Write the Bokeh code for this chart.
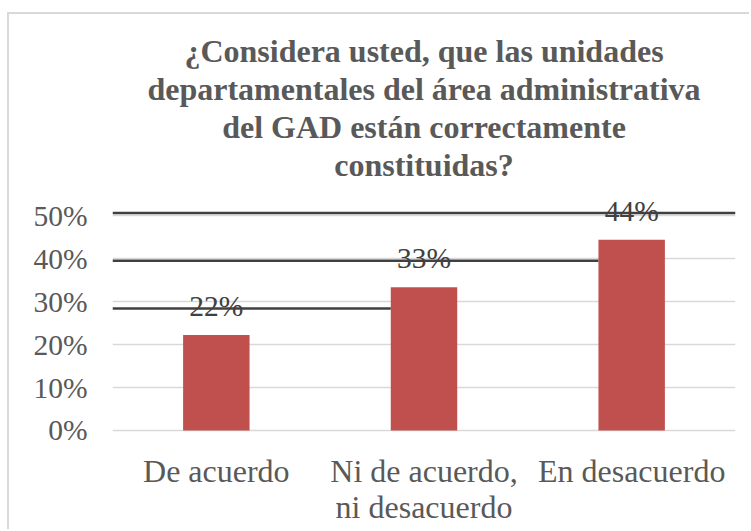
from bokeh.plotting import figure
from bokeh.models import ColumnDataSource, FactorRange, Range1d, FixedTicker, Title, LabelSet, NumeralTickFormatter
from bokeh.embed import file_html
from bokeh.resources import INLINE

# ---- data ----
categories = ["De acuerdo", "Ni de acuerdo, ni desacuerdo", "En desacuerdo"]
cat_line1 = ["De acuerdo", "Ni de acuerdo,", "En desacuerdo"]
cat_line2 = ["", "ni desacuerdo", ""]
shares = [0.222, 0.333, 0.444]
labels = ["22%", "33%", "44%"]
y_ticks = [0, 0.1, 0.2, 0.3, 0.4, 0.5]
title_lines = ["¿Considera usted, que las unidades",
               "departamentales del área administrativa",
               "del GAD están correctamente",
               "constituidas?"]

BAR_W = 0.32
FONT = "Liberation Serif"

p = figure(x_range=FactorRange(factors=categories, range_padding=0),
           y_range=Range1d(-0.235, 0.549),
           width=742, height=517, output_backend="svg", toolbar_location=None,
           min_border_left=103, min_border_right=16, min_border_top=180, min_border_bottom=0)
p.outline_line_color = None
p.background_fill_color = "white"
p.border_fill_color = "white"

# bars
src = ColumnDataSource(dict(cat=categories, val=shares, lab=labels,
                            l1=cat_line1, l2=cat_line2, zero=[0] * len(categories)))
p.vbar(x="cat", top="val", width=BAR_W, source=src, color="#c0504d", line_color=None)

# data labels
p.add_layout(LabelSet(x="cat", y="val", text="lab", source=src, text_align="center",
                      text_baseline="alphabetic", y_offset=19, text_font=FONT,
                      text_font_size="29.5px", text_color="#404040"))

# dark strike-through lines crossing the data labels (as seen in the source image)
n = len(categories)
x_start = [0.0] * n
x_end = [(i + 1) + 0.5 - BAR_W / 2 if i < n - 1 else float(n) for i in range(n)]
y_strike = [v + 0.062 for v in shares]
p.segment(x0=x_start, x1=x_end, y0=y_strike, y1=y_strike, line_color="#404040", line_width=2.5)

# category labels (two lines), below the zero line
for col, off in (("l1", -52), ("l2", -88)):
    p.add_layout(LabelSet(x="cat", y="zero", text=col, source=src, text_align="center",
                          text_baseline="alphabetic", y_offset=off, text_font=FONT,
                          text_font_size="32px", text_color="#595959"))

# axes
p.yaxis.ticker = FixedTicker(ticks=y_ticks)
p.yaxis.formatter = NumeralTickFormatter(format="0%")
p.yaxis.axis_line_color = None
p.yaxis.major_tick_line_color = None
p.yaxis.minor_tick_line_color = None
p.yaxis.major_label_standoff = 19
p.yaxis.major_label_text_font = FONT
p.yaxis.major_label_text_font_size = "29.5px"
p.yaxis.major_label_text_color = "#595959"

p.xaxis.visible = False

p.xgrid.grid_line_color = None
p.ygrid.grid_line_color = "#d9d9d9"
p.ygrid.grid_line_width = 1.5

# small blank spacer between the title block and the plot area
p.add_layout(Title(text=" ", text_font_size="9px", standoff=0), "above")
for line in reversed(title_lines):
    p.add_layout(Title(text=line, align="center", text_font=FONT, text_font_size="32px",
                       text_font_style="bold", text_color="#595959",
                       standoff=0, text_line_height=1.15), "above")

p.styles = {"border-top": "2px solid #d9d9d9", "border-left": "2px solid #d9d9d9",
            "margin-left": "7px", "margin-top": "12px"}

open("out.html", "w").write(file_html(p, INLINE))
